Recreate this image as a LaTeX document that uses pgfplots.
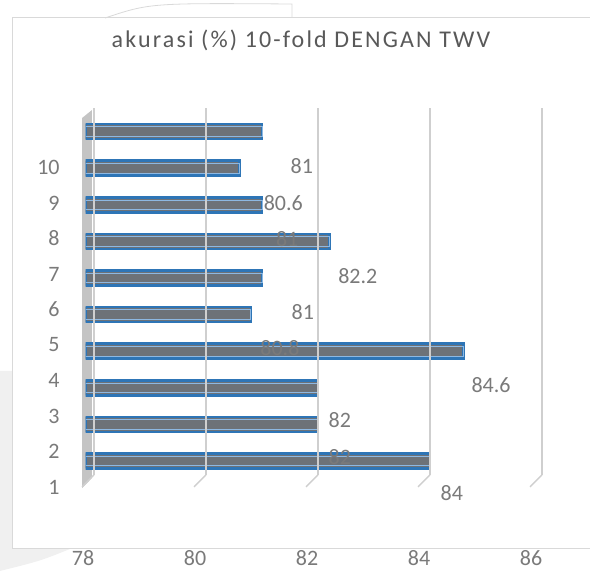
\documentclass[border=0pt]{standalone}
\usepackage{fontspec}
\setmainfont{Carlito}
\newfontfamily\titlefont[LetterSpace=9]{Carlito}
\usepackage{pgfplots}
\usepackage{pgfplotstable}
\pgfplotsset{compat=1.18}
\definecolor{barfill}{HTML}{6D7278}
\definecolor{barblue}{HTML}{2E75B6}
\definecolor{barlight}{HTML}{8DB8E2}
\definecolor{gridc}{HTML}{CFCFCF}
\definecolor{txt}{HTML}{7A7A7A}
\definecolor{ttl}{HTML}{595959}
\definecolor{framec}{HTML}{D9D9D9}
\definecolor{wallc}{HTML}{C4C4C4}

\pgfplotstableread{
y x
1 84
2 82
3 82
4 84.6
5 80.8
6 81
7 82.2
8 81
9 80.6
10 81
}\bars

\pgfplotstableread{
x y lab
84.39 0.13 84
82.39 1.11 82
82.39 2.12 82
85.09 3.08 84.6
81.32 4.09 80.8
81.73 5.07 81
82.71 6.05 82.2
81.45 7.07 81
81.38 8.05 80.6
81.71 9.06 81
}\labs

\pgfplotstableread{
x y lab
77.39 0.29 1
77.39 1.26 2
77.39 2.23 3
77.39 3.20 4
77.39 4.17 5
77.39 5.14 6
77.39 6.11 7
77.39 7.08 8
77.39 8.05 9
77.39 9.02 10
}\cats

\pgfplotsset{common/.style={
  scale only axis, width=456.4pt, height=366.7pt,
  xmin=77.85, xmax=86, ymin=0.62, ymax=10.64,
  at={(85.6pt,96.1pt)}, anchor=south west}}

\begin{document}
\begin{tikzpicture}
\useasboundingbox (0pt,0pt) rectangle (590pt,571pt);
\fill[black!6] (0pt,0pt) -- (0pt,200pt) -- (12pt,200pt) -- (12pt,22pt) -- (70pt,22pt) .. controls (40pt,10pt) .. (0pt,0pt);
\fill[white] (12pt,22pt) rectangle (600pt,553pt);
\draw[framec, line width=1pt] (12pt,22pt) rectangle (600pt,553pt);
\draw[framec, line width=0.8pt] (105pt,553pt) .. controls (150pt,568pt) .. (292pt,567pt) -- (292pt,553pt);
\node[anchor=base, text=ttl, font=\titlefont\fontsize{24}{28}\selectfont] at (301pt,523pt) {akurasi (\%) 10-fold DENGAN TWV};

% wall and grid feet
\begin{axis}[common, hide axis, clip=false]
\fill[wallc] (axis cs:77.786,10.37) -- (axis cs:77.964,10.59) -- (axis cs:77.964,0.535) -- (axis cs:77.786,0.262) -- cycle;
\pgfplotsinvokeforeach{78,80,82,84,86}{
  \draw[gridc, line width=1.4pt] (axis cs:#1,0.62) -- (axis cs:#1-0.214,0.29);
}
\end{axis}

% bars
\begin{axis}[common, axis on top, axis line style={draw=none},
  major tick length=0pt,
  xtick={78,80,82,84,86}, ytick=\empty,
  xmajorgrids, grid style={gridc, line width=1.4pt},
  xticklabel style={anchor=center, yshift=-83.1pt, xshift=-11pt, text=txt,
    font=\fontsize{22}{26}\selectfont},
  /pgf/number format/assume math mode=true]
\addplot[xbar, bar width=15pt, bar shift=0pt, fill=barfill, draw=barblue, line width=2.6pt]
  table[x=x, y=y]{\bars};
\addplot[xbar, bar width=9.5pt, bar shift=0pt, fill=none, draw=barlight, line width=0.8pt]
  table[x=x, y=y]{\bars};
\end{axis}

% labels
\begin{axis}[common, hide axis, clip=false]
\addplot[draw=none, mark=none, nodes near coords, point meta=explicit symbolic,
  nodes near coords style={anchor=center, text=txt, font=\fontsize{22}{26}\selectfont, inner sep=0pt}]
  table[x=x, y=y, meta=lab]{\labs};
\addplot[draw=none, mark=none, nodes near coords, point meta=explicit symbolic,
  nodes near coords style={anchor=east, text=txt, font=\fontsize{22}{26}\selectfont, inner sep=0pt}]
  table[x=x, y=y, meta=lab]{\cats};
\end{axis}
\end{tikzpicture}
\end{document}
